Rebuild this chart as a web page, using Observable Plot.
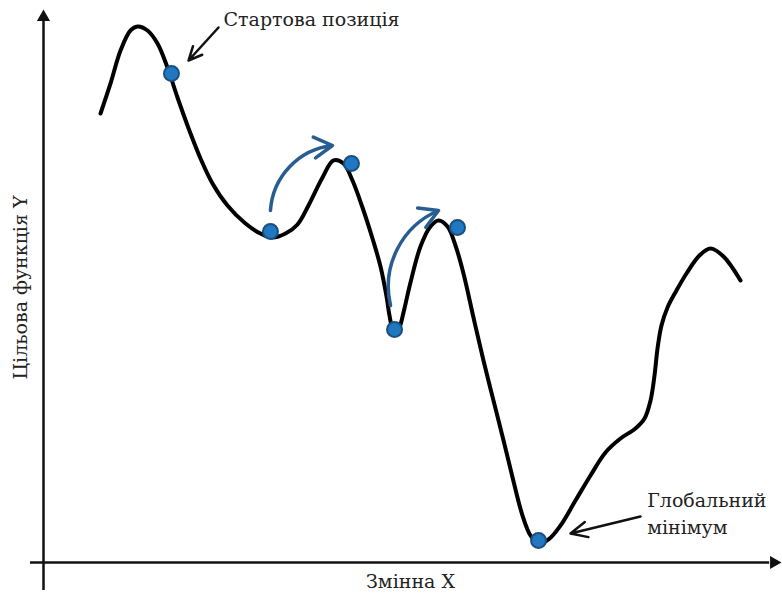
<!DOCTYPE html>
<html>
<head>
<meta charset="utf-8">
<script src="https://cdn.jsdelivr.net/npm/d3@7"></script>
<script src="https://cdn.jsdelivr.net/npm/@observablehq/plot@0.6"></script>
<style>
  html, body { margin: 0; padding: 0; background: #ffffff; }
  svg { display: block; }
</style>
</head>
<body>
<div id="chart"></div>
<script>
// Objective-function landscape (abstract units, 0..10 on both axes)
const curveX = [0.776, 0.912, 1.048, 1.184, 1.279, 1.415, 1.551, 1.687, 1.823, 2.000, 2.136, 2.299, 2.503, 2.748, 2.952, 3.116, 3.293, 3.456, 3.605, 3.796, 3.946, 4.082, 4.204, 4.340, 4.476, 4.585, 4.667, 4.707, 4.748, 4.796, 4.844, 4.898, 4.993, 5.129, 5.265, 5.374, 5.497, 5.605, 5.714, 5.850, 5.986, 6.122, 6.259, 6.395, 6.517, 6.626, 6.735, 6.871, 7.034, 7.238, 7.442, 7.646, 7.850, 8.054, 8.177, 8.259, 8.313, 8.354, 8.408, 8.490, 8.612, 8.748, 8.925, 9.075, 9.252, 9.483];
const curveY = [8.134, 8.678, 9.275, 9.638, 9.710, 9.638, 9.402, 8.967, 8.424, 7.772, 7.319, 6.866, 6.467, 6.141, 5.960, 5.888, 5.960, 6.123, 6.467, 6.975, 7.283, 7.228, 6.920, 6.431, 5.870, 5.362, 4.819, 4.475, 4.239, 4.149, 4.257, 4.529, 5.072, 5.725, 6.087, 6.196, 6.087, 5.743, 5.236, 4.438, 3.659, 2.935, 2.210, 1.467, 0.851, 0.489, 0.344, 0.417, 0.670, 1.123, 1.576, 1.993, 2.246, 2.428, 2.609, 2.935, 3.388, 3.877, 4.293, 4.620, 4.928, 5.236, 5.562, 5.688, 5.543, 5.109];

// Search positions (balls)
const ballX = [1.741, 3.088, 4.190, 4.776, 5.633, 6.735];
const ballY = [8.859, 5.996, 7.228, 4.221, 6.069, 0.399];

// Jumps out of local minima (curved blue arrows)
const jumpX1 = [3.088, 4.721];
const jumpY1 = [6.377, 4.656];
const jumpX2 = [3.932, 5.374];
const jumpY2 = [7.554, 6.377];

// Annotations
const noteText = ["Стартова позиція", "Глобальний", "мінімум"];
const noteX = [2.449, 8.214, 8.214];
const noteY = [9.837, 1.114, 0.625];
const pointerX1 = [2.381, 8.122];
const pointerY1 = [9.692, 0.833];
const pointerX2 = [1.973, 7.170];
const pointerY2 = [9.094, 0.525];

// Axis titles
const xTitle = "Змінна X";
const yTitle = "Цільова функція Y";

const curve = curveX.map((x, i) => ({x, y: curveY[i]}));
const balls = ballX.map((x, i) => ({x, y: ballY[i]}));
const jumps = jumpX1.map((x1, i) => ({x1, y1: jumpY1[i], x2: jumpX2[i], y2: jumpY2[i]}));
const notes = noteText.map((t, i) => ({t, x: noteX[i], y: noteY[i]}));
const pointers = pointerX1.map((x1, i) => ({x1, y1: pointerY1[i], x2: pointerX2[i], y2: pointerY2[i]}));

const FONT = "DejaVu Serif, serif";
const AXIS_LEFT = -0.177, AXIS_RIGHT = 9.88, AXIS_BOTTOM = -0.507, AXIS_TOP = 9.82;

const chart = Plot.plot({
  width: 782,
  height: 599,
  marginLeft: 43,
  marginRight: 4,
  marginTop: 10,
  marginBottom: 37,
  x: {domain: [0, 10], axis: null},
  y: {domain: [0, 10], axis: null},
  marks: [
    // axes
    Plot.ruleX([0], {y1: AXIS_BOTTOM, y2: AXIS_TOP, stroke: "#111", strokeWidth: 2.5}),
    Plot.ruleY([0], {x1: AXIS_LEFT, x2: AXIS_RIGHT, stroke: "#111", strokeWidth: 2.5}),
    Plot.dot([{x: 0, y: 9.88}], {x: "x", y: "y", symbol: "triangle", r: 4.9, fill: "#111", stroke: "none"}),
    Plot.dot([{x: 9.937, y: 0}], {x: "x", y: "y", symbol: "triangle", r: 4.9, fill: "#111", stroke: "none", rotate: 90}),
    // landscape
    Plot.line(curve, {x: "x", y: "y", curve: "catmull-rom", stroke: "#000", strokeWidth: 4}),
    // jumps
    Plot.arrow(jumps, {x1: "x1", y1: "y1", x2: "x2", y2: "y2", bend: 40, stroke: "#275d90", strokeWidth: 3.5, headLength: 9}),
    // balls
    Plot.dot(balls, {x: "x", y: "y", r: 7.5, fill: "#1f78c1", stroke: "#1c4e7e", strokeWidth: 2}),
    // pointers
    Plot.arrow(pointers, {x1: "x1", y1: "y1", x2: "x2", y2: "y2", stroke: "#111", strokeWidth: 2.5, headLength: 11, headAngle: 50}),
    // annotation text
    Plot.text(notes, {x: "x", y: "y", text: "t", textAnchor: "start", fontSize: 19, fontFamily: FONT, fill: "#222"}),
    Plot.text([xTitle], {x: 4.993, y: -0.344, text: d => d, fontSize: 19, fontFamily: FONT, fill: "#222"}),
    Plot.text([yTitle], {x: -0.313, y: 4.982, text: d => d, rotate: -90, fontSize: 19, fontFamily: FONT, fill: "#222"})
  ]
});
document.getElementById("chart").appendChild(chart);
</script>
</body>
</html>
